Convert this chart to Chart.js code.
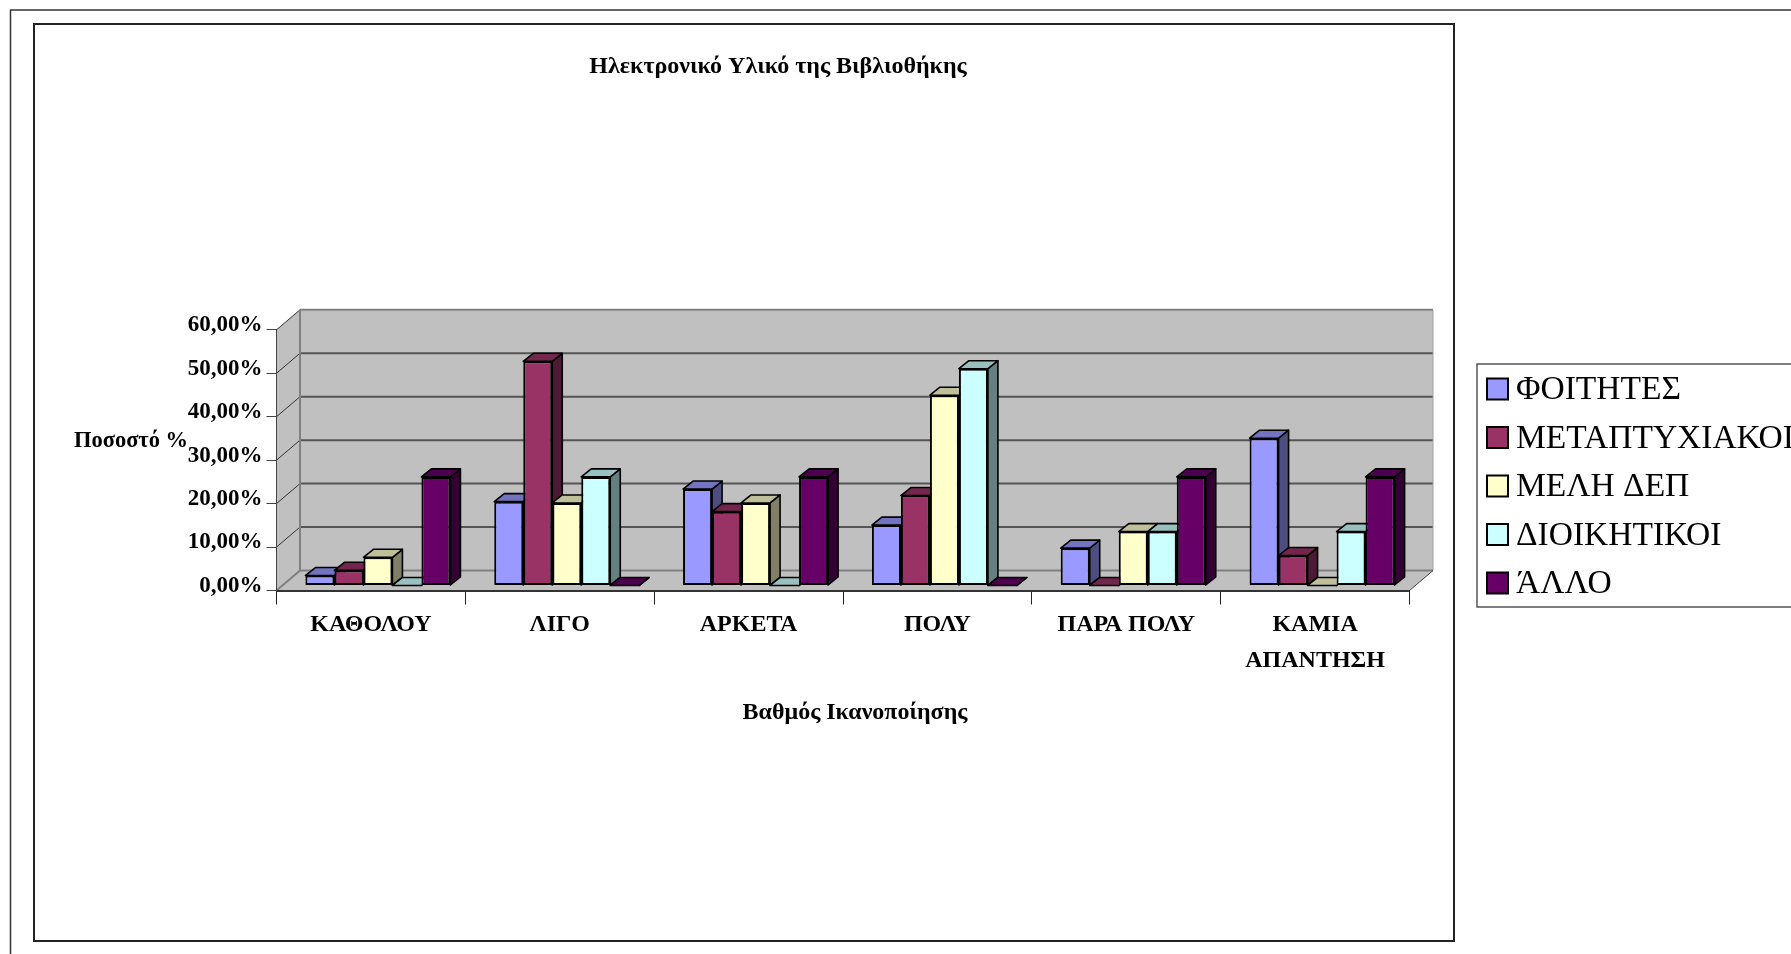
<!DOCTYPE html>
<html lang="el">
<head>
<meta charset="utf-8">
<title>Ηλεκτρονικό Υλικό της Βιβλιοθήκης</title>
<script src="https://cdn.jsdelivr.net/npm/chart.js@4/dist/chart.umd.min.js"></script>
<style>html,body{margin:0;padding:0;background:#fff}canvas{display:block}</style>
</head>
<body>
<canvas id="c" width="1791" height="954"></canvas>
<script>
const chartTitle = 'Ηλεκτρονικό Υλικό της Βιβλιοθήκης';
const yAxisTitle = 'Ποσοστό %';
const xAxisTitle = 'Βαθμός Ικανοποίησης';
const categories = ['ΚΑΘΟΛΟΥ', 'ΛΙΓΟ', 'ΑΡΚΕΤΑ', 'ΠΟΛΥ', 'ΠΑΡΑ ΠΟΛΥ', ['ΚΑΜΙΑ', 'ΑΠΑΝΤΗΣΗ']];
const seriesNames = ['ΦΟΙΤΗΤΕΣ', 'ΜΕΤΑΠΤΥΧΙΑΚΟΙ', 'ΜΕΛΗ ΔΕΠ', 'ΔΙΟΙΚΗΤΙΚΟΙ', 'ΆΛΛΟ'];
const foitites = [2.3, 19.3, 22.2, 13.9, 8.6, 33.9];
const metaptyxiakoi = [3.5, 51.6, 17.0, 20.7, 0, 6.9];
const meliDep = [6.5, 19.0, 19.0, 43.8, 12.4, 0];
const dioikitikoi = [0, 25.0, 0, 49.9, 12.4, 12.4];
const allo = [25.0, 0, 25.0, 0, 25.0, 25.0];
const seriesValues = [foitites, metaptyxiakoi, meliDep, dioikitikoi, allo];
const seriesColors = ['#9999FF', '#993366', '#FFFFCC', '#CCFFFF', '#660066'];

const FONT = '"Liberation Serif", serif';
const WALL = {dx: 23.5, dy: 20};
const BAR = {shiftX: 7, shiftY: 5, dx: 10, dy: 8};

function shade(hex, k) {
  const n = parseInt(hex.slice(1), 16);
  return 'rgb(' + [(n >> 16) & 255, (n >> 8) & 255, n & 255].map(v => Math.round(v * k)).join(',') + ')';
}
function poly(ctx, pts, fill, stroke, lw) {
  ctx.beginPath();
  pts.forEach((p, i) => i ? ctx.lineTo(p[0], p[1]) : ctx.moveTo(p[0], p[1]));
  ctx.closePath();
  if (fill) { ctx.fillStyle = fill; ctx.fill(); }
  if (stroke) { ctx.strokeStyle = stroke; ctx.lineWidth = lw; ctx.lineJoin = 'round'; ctx.stroke(); }
}
function line(ctx, x0, y0, x1, y1, color, lw) {
  ctx.beginPath(); ctx.moveTo(x0, y0); ctx.lineTo(x1, y1);
  ctx.strokeStyle = color; ctx.lineWidth = lw; ctx.stroke();
}

const scene = {
  id: 'scene',
  beforeDraw(chart) {
    const {ctx, chartArea: a, scales} = chart;
    ctx.save();
    ctx.fillStyle = '#fff'; ctx.fillRect(0, 0, chart.width, chart.height);
    // page frames: the outer one runs off the right and bottom of the page
    line(ctx, 10.5, 954, 10.5, 10, '#333', 1.5);
    line(ctx, 10, 10, 1791, 10, '#333', 1.5);
    ctx.strokeStyle = '#222'; ctx.lineWidth = 2;
    ctx.strokeRect(34, 24, 1420, 917);
    // walls
    const dx = WALL.dx, dy = WALL.dy, y = scales.y;
    const top = y.getPixelForValue(y.max), bot = y.getPixelForValue(0);
    poly(ctx, [[a.left, top], [a.left + dx, top - dy], [a.left + dx, bot - dy], [a.left, bot]], '#C0C0C0');
    ctx.fillStyle = '#C0C0C0'; ctx.fillRect(a.left + dx, top - dy, a.right - a.left, bot - top);
    poly(ctx, [[a.left, bot], [a.left + dx, bot - dy], [a.right + dx, bot - dy], [a.right, bot]], '#C0C0C0');
    y.ticks.forEach(t => {
      const p = y.getPixelForValue(t.value);
      line(ctx, a.left, p, a.left + dx, p - dy, '#333', 1);
      if (t.value > 0 && t.value < y.max) line(ctx, a.left + dx, p - dy, a.right + dx, p - dy, '#555', 2);
    });
    line(ctx, a.left + dx, top - dy, a.right + dx, top - dy, '#808080', 2);
    line(ctx, a.left + dx, top - dy, a.left + dx, bot - dy, '#808080', 2);
    line(ctx, a.right + dx, top - dy, a.right + dx, bot - dy, '#A0A0A0', 1);
    line(ctx, a.left + dx, bot - dy, a.right + dx, bot - dy, '#808080', 2);
    line(ctx, a.left, bot, a.left + dx, bot - dy, '#808080', 2);
    line(ctx, a.right, bot, a.right + dx, bot - dy, '#444', 1);
    ctx.restore();
  },
  beforeDatasetsDraw(chart) {
    const ctx = chart.ctx;
    ctx.save();
    ctx.translate(BAR.shiftX, -BAR.shiftY);
    chart.data.datasets.forEach((ds, i) => {
      const meta = chart.getDatasetMeta(i);
      meta.data.forEach(el => {
        const p = el.getProps(['x', 'y', 'base', 'width'], true);
        const l = p.x - p.width / 2, r = p.x + p.width / 2;
        const b = BAR.dx, d = BAR.dy;
        poly(ctx, [[r, p.y], [r + b, p.y - d], [r + b, p.base - d], [r, p.base]], shade(ds.backgroundColor, 0.5), '#000', 1.6);
        poly(ctx, [[l, p.y], [l + b, p.y - d], [r + b, p.y - d], [r, p.y]], shade(ds.backgroundColor, 0.75), '#000', 1.6);
      });
      meta.controller.draw();
    });
    ctx.restore();
    return false;
  },
  afterDraw(chart) {
    const ctx = chart.ctx;
    ctx.save();
    // axis titles
    ctx.fillStyle = '#000';
    ctx.textBaseline = 'middle';
    ctx.textAlign = 'center';
    ctx.font = 'bold 22.5px ' + FONT;
    ctx.fillText(yAxisTitle, 131, 441);
    ctx.font = 'bold 24px ' + FONT;
    ctx.fillText(xAxisTitle, 855, 713);
    // legend
    ctx.fillStyle = '#fff';
    ctx.fillRect(1477, 364, 320, 243);
    ctx.strokeStyle = '#555'; ctx.lineWidth = 1.5;
    ctx.strokeRect(1477, 364, 320, 243);
    ctx.textAlign = 'left';
    ctx.font = '33.5px ' + FONT;
    chart.data.datasets.forEach((ds, i) => {
      const cy = 389 + i * 48.5;
      ctx.fillStyle = ds.backgroundColor;
      ctx.fillRect(1487, cy - 10.5, 21, 21);
      ctx.strokeStyle = '#000'; ctx.lineWidth = 2;
      ctx.strokeRect(1487, cy - 10.5, 21, 21);
      ctx.fillStyle = '#000';
      ctx.fillText(ds.label, 1516, cy + 1.5);
    });
    ctx.restore();
  }
};

new Chart(document.getElementById('c'), {
  type: 'bar',
  data: {
    labels: categories,
    datasets: seriesNames.map((n, i) => ({
      label: n,
      data: seriesValues[i],
      backgroundColor: seriesColors[i],
      borderColor: '#000',
      borderWidth: 2,
      borderSkipped: false,
      categoryPercentage: 0.768,
      barPercentage: 1
    }))
  },
  plugins: [scene],
  options: {
    responsive: false,
    animation: false,
    events: [],
    layout: {padding: {left: 146.5, right: 381.5, top: 0, bottom: 263.5}},
    plugins: {
      legend: {display: false},
      tooltip: {enabled: false},
      title: {
        display: true,
        text: chartTitle,
        color: '#000',
        font: {family: FONT, size: 24, weight: 'bold', lineHeight: 1.2},
        padding: {top: 52, bottom: 249}
      }
    },
    scales: {
      x: {
        afterFit(s) { s.height = 100; },
        grid: {drawOnChartArea: false, drawTicks: true, tickLength: 14, color: '#222', lineWidth: 1},
        border: {color: '#333', width: 2},
        ticks: {
          color: '#000', maxRotation: 0, autoSkip: false, padding: 2,
          font: {family: FONT, size: 24, weight: 'bold', lineHeight: 1.52}
        }
      },
      y: {
        min: 0, max: 60,
        afterFit(s) { s.width = 130; },
        grid: {drawOnChartArea: false, drawTicks: true, tickLength: 10, color: '#444', lineWidth: 1},
        border: {color: '#444', width: 1},
        ticks: {
          stepSize: 10, color: '#000', padding: 4, labelOffset: -4.5,
          font: {family: FONT, size: 23, weight: 'bold'},
          callback: v => v.toFixed(2).replace('.', ',') + '%'
        }
      }
    }
  }
});
</script>
</body>
</html>
